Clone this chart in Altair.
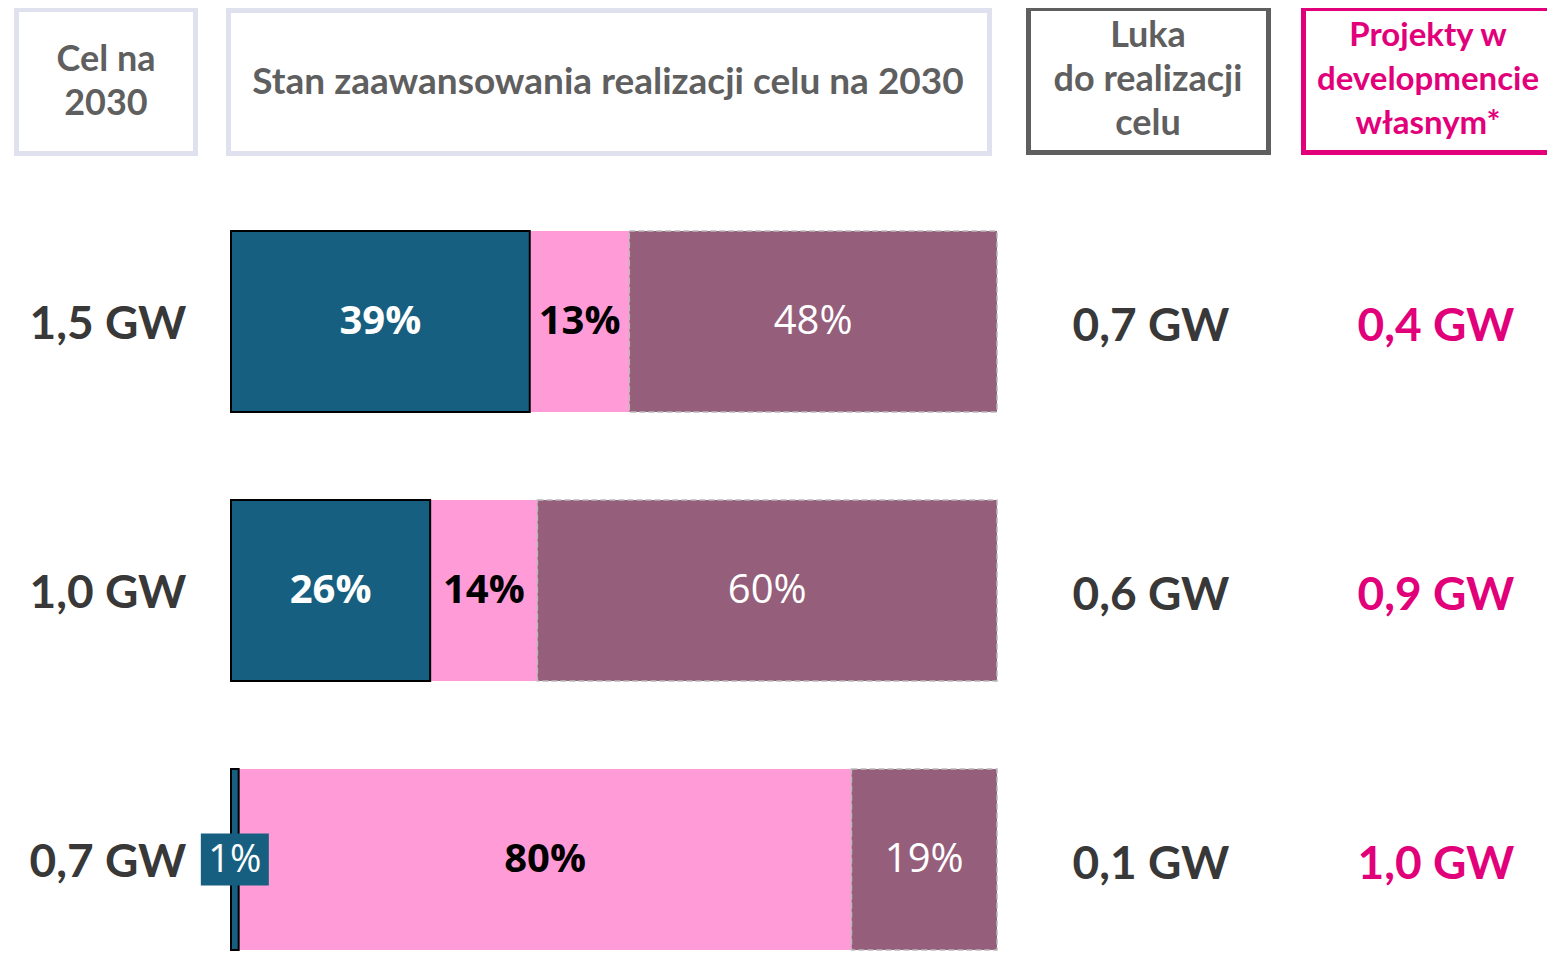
import altair as alt
import pandas as pd

# ---- data ----
targets = ["1,5 GW", "1,0 GW", "0,7 GW"]
installed = [39, 26, 1]      # teal
pipeline = [13, 14, 80]      # pink
gap_share = [48, 60, 19]     # purple
gap_gw = ["0,7 GW", "0,6 GW", "0,1 GW"]
own_dev = ["0,4 GW", "0,9 GW", "1,0 GW"]

header_cel = "Cel na\n2030"
header_stan = "Stan zaawansowania realizacji celu na 2030"
header_luka = "Luka\ndo realizacji\ncelu"
header_proj = "Projekty w\ndevelopmencie\nwłasnym*"

TEAL = "#175F80"
PINK = "#FF9BD6"
PURPLE = "#955F7B"
MAGENTA = "#E2007A"
GRAY = "#5F5F5F"
DARK = "#383838"
LAV = "#DFE1EE"

rows = []
for i, t in enumerate(targets):
    start = 0
    for cat, v in (("installed", installed[i]), ("pipeline", pipeline[i]), ("gap", gap_share[i])):
        rows.append(dict(row=i, target=t, cat=cat, start=start, end=start + v,
                         mid=start + v / 2, label=f"{v}%", small=v < 5,
                         y0=i - 0.336, y1=i + 0.336))
        start += v
seg = pd.DataFrame(rows)

side = pd.DataFrame(dict(row=list(range(3)), target=targets, gap=gap_gw, own=own_dev))

xs = alt.Scale(domain=[0, 100], range=[223, 989])
ys = alt.Scale(domain=[0, 2], range=[313.5, 851.5])

base = alt.Chart(seg)

def bars(cat, fill, **kw):
    return base.transform_filter(alt.datum.cat == cat).mark_bar(fill=fill, **kw).encode(
        x=alt.X("start:Q", scale=xs, axis=None),
        x2="end:Q",
        y=alt.Y("y0:Q", scale=ys, axis=None),
        y2="y1:Q",
    )

bar_inst = bars("installed", TEAL, stroke="black", strokeWidth=2)
bar_pipe = bars("pipeline", PINK)
bar_gap = bars("gap", PURPLE, stroke="#BBBBBB", strokeWidth=1.5, strokeDash=[6, 3])

def labels(cat, color, weight):
    return base.transform_filter((alt.datum.cat == cat) & (alt.datum.small == False)).mark_text(
        color=color, font="Open Sans", fontSize=40, fontWeight=weight, baseline="middle", align="center"
    ).encode(
        x=alt.X("mid:Q", scale=xs, axis=None),
        y=alt.Y("row:Q", scale=ys, axis=None),
        text="label:N",
    )

lab_inst = labels("installed", "white", "bold")
lab_pipe = labels("pipeline", "black", "bold")
lab_gap = labels("gap", "white", "normal")

small_box = base.transform_filter(alt.datum.small == True).mark_rect(
    fill=TEAL, xOffset=-34, x2Offset=34, yOffset=-26, y2Offset=26
).encode(
    x=alt.X("mid:Q", scale=xs, axis=None), x2="mid:Q",
    y=alt.Y("row:Q", scale=ys, axis=None), y2="row:Q",
)
small_lab = base.transform_filter(alt.datum.small == True).mark_text(
    color="white", font="Open Sans", fontSize=38, baseline="middle", align="center", dy=1
).encode(
    x=alt.X("mid:Q", scale=xs, axis=None),
    y=alt.Y("row:Q", scale=ys, axis=None),
    text="label:N",
)

sbase = alt.Chart(side)
def side_text(field, xpos, color, dy=0):
    return sbase.mark_text(font="Lato", fontWeight="bold", fontSize=46, color=color,
                           baseline="middle", align="center", dy=dy).encode(
        x=alt.value(xpos), y=alt.Y("row:Q", scale=ys, axis=None), text=f"{field}:N")

side_left = side_text("target", 100, DARK, dy=3)
side_gap = side_text("gap", 1143, DARK, dy=5)
side_own = side_text("own", 1428, MAGENTA, dy=5)

hdr = alt.Chart(pd.DataFrame({"k": [0]}))
def box(x1, x2, y1, y2, color):
    return hdr.mark_rect(fill="white", stroke=color, strokeWidth=5).encode(
        x=alt.value(x1), x2=alt.value(x2), y=alt.value(y1), y2=alt.value(y2))

def htext(txt, x, y, color, size=36):
    return hdr.mark_text(text=txt, lineBreak="\n", font="Lato", fontWeight="bold", fontSize=size,
                         color=color, align="center", baseline="middle", lineHeight=44).encode(
        x=alt.value(x), y=alt.value(y))

boxes = (box(8.5, 187.5, 1.5, 145.5, LAV) + box(220.5, 981.5, 2.5, 145.5, LAV)
         + box(1020.5, 1260.5, 0.5, 144.5, GRAY) + box(1295.5, 1570, 0.5, 144.5, MAGENTA))
htexts = (htext(header_cel, 98, 52, GRAY) + htext(header_stan, 600, 75, GRAY, size=37)
          + htext(header_luka, 1140, 28, GRAY) + htext(header_proj, 1420, 28, MAGENTA, size=33))

chart = alt.layer(
    boxes, htexts,
    bar_pipe, bar_gap, bar_inst,
    lab_inst, lab_pipe, lab_gap, small_box, small_lab,
    side_left, side_gap, side_own,
).properties(
    width=1539, height=961, padding=0, autosize=alt.AutoSizeParams(type="none")
).configure_view(stroke=None)

chart.save("out.html", embed_options={"renderer": "svg", "actions": False})
